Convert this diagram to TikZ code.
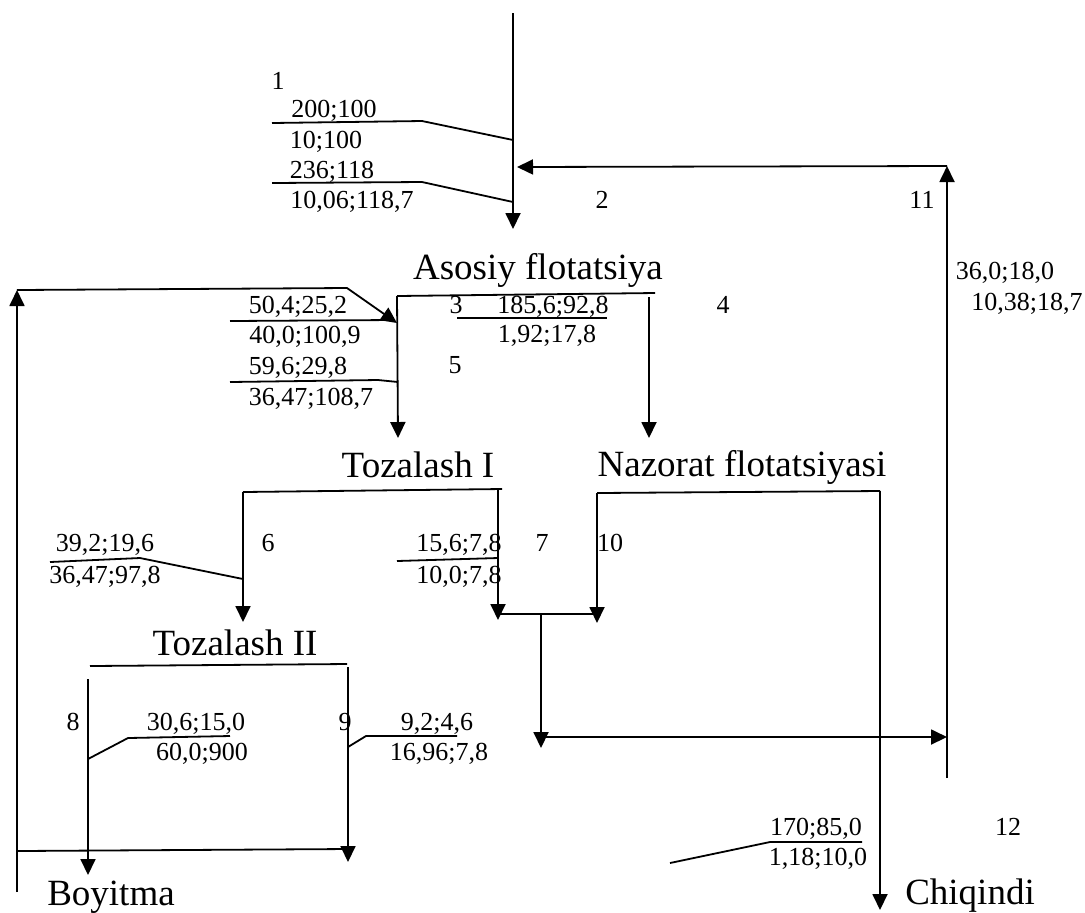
\documentclass[tikz,border=0pt]{standalone}
\usepackage{fontspec}
\setmainfont{Liberation Serif}
\usetikzlibrary{arrows.meta,positioning}

\tikzset{
  flow/.style={line width=0.9pt},
  flowarr/.style={flow, -{Triangle[length=8pt,width=7.5pt]}},
  val/.style={anchor=base, inner sep=0pt, font=\fontsize{13}{15}\selectfont},
  stage/.style={anchor=base, inner sep=0pt, font=\fontsize{18.5}{21}\selectfont},
}

\begin{document}
\begin{tikzpicture}[x=0.5pt,y=-0.5pt]
  \useasboundingbox (0,0) rectangle (1085,912);
  % Stage names
  \node[stage] (asosiy)  at (538,279) {Asosiy flotatsiya};
  \node[stage] (toz1)    at (418,477) {Tozalash I};
  \node[stage] (nazorat) at (742,476) {Nazorat flotatsiyasi};
  \node[stage] (toz2)    at (235,655) {Tozalash II};
  \node[stage] (boyitma) at (111,905) {Boyitma};
  \node[stage] (chiq)    at (970,904) {Chiqindi};
  % Flow numbers and values
  \foreach [count=\i] \x/\y/\t in {
      278/89/1, 334/117/{200;100}, 326/148/{10;100}, 332/178/{236;118},
      352/208/{10,06;118,7}, 602/208/2, 922/208/11,
      1005/279/{36,0;18,0}, 1027/310/{10,38;18,7},
      456/313/3, 553/313/{185,6;92,8}, 547/342/{1,92;17,8}, 723/313/4,
      455/373/5, 298/313/{50,4;25,2}, 305/343/{40,0;100,9},
      298/374/{59,6;29,8}, 311/405/{36,47;108,7},
      105/551/{39,2;19,6}, 105/583/{36,47;97,8}, 268/551/6,
      459/551/{15,6;7,8}, 459/583/{10,0;7,8}, 542/551/7, 610/551/10,
      73/730/8, 196/730/{30,6;15,0}, 202/760/{60,0;900},
      345/730/9, 437/730/{9,2;4,6}, 439/760/{16,96;7,8},
      816/835/{170;85,0}, 818/865/{1,18;10,0}, 1008/835/12}{
    \node[val] (v\i) at (\x,\y) {\t};
  }
  % Points of the flowsheet
  \coordinate (feedtop) at (513,13);
  \coordinate (feedin)  at (513,229);
  \coordinate (f1a) at (272,123); \coordinate (f1b) at (422,121); \coordinate (f1c) at (513,140);
  \coordinate (f2a) at (272,183); \coordinate (f2b) at (422,182); \coordinate (f2c) at (513,202);
  \coordinate (r11bot) at (947,778); \coordinate (r11top) at (947,166);
  \coordinate (r11in) at (517,167);
  \coordinate (asL) at (397,296); \coordinate (asR) at (655,293);
  \coordinate (asLout) at (398,438); \coordinate (asRin) at (649,297);
  \coordinate (asRout) at (649,438);
  \coordinate (u3a) at (457,318); \coordinate (u3b) at (607,318);
  \coordinate (d50a) at (230,321); \coordinate (d50b) at (393,320);
  \coordinate (d59a) at (230,382); \coordinate (d59b) at (378,380); \coordinate (d59c) at (398,382);
  \coordinate (lbot) at (17,892); \coordinate (ltop) at (17,290);
  \coordinate (lbend) at (347,288); \coordinate (lin) at (397,323);
  \coordinate (lrow) at (17,851); \coordinate (lrowR) at (348,849);
  \coordinate (t1L) at (243,492); \coordinate (t1R) at (502,489);
  \coordinate (t1Lout) at (243,622); \coordinate (t1Rin) at (498,489);
  \coordinate (t1Rout) at (498,620);
  \coordinate (d39a) at (50,562); \coordinate (d39b) at (140,558); \coordinate (d39c) at (243,579);
  \coordinate (d15a) at (397,561); \coordinate (d15b) at (498,558);
  \coordinate (nzL) at (597,493); \coordinate (nzR) at (880,491);
  \coordinate (nzLout) at (597,623); \coordinate (nzRout) at (880,910);
  \coordinate (jL) at (498,614); \coordinate (jR) at (597,614);
  \coordinate (jM) at (541,614); \coordinate (jMout) at (541,748);
  \coordinate (hL) at (541,737); \coordinate (hR) at (947,737);
  \coordinate (t2L) at (90,666); \coordinate (t2R) at (347,664);
  \coordinate (t2Lin) at (88,679); \coordinate (t2Lout) at (88,875);
  \coordinate (t2Rin) at (348,667); \coordinate (t2Rout) at (348,862);
  \coordinate (d30a) at (88,759); \coordinate (d30b) at (128,738); \coordinate (d30c) at (230,736);
  \coordinate (d9a) at (348,747); \coordinate (d9b) at (366,736); \coordinate (d9c) at (457,736);
  \coordinate (d17a) at (670,863); \coordinate (d17b) at (770,842); \coordinate (d17c) at (862,842);
  % Feed to main flotation
  \draw[flowarr] (feedtop) -- (feedin);
  \draw[flow] (f1a) -- (f1b) -- (f1c);
  \draw[flow] (f2a) -- (f2b) -- (f2c);
  \draw[flowarr] (r11bot) -- (r11top);
  \draw[flowarr] (r11top) -- (r11in);
  % Asosiy flotatsiya
  \draw[flow] (asL) -- (asR);
  \draw[flowarr] (asL) -- (asLout);
  \draw[flowarr] (asRin) -- (asRout);
  \draw[flow] (u3a) -- (u3b);
  \draw[flow] (d50a) -- (d50b);
  \draw[flow] (d59a) -- (d59b) -- (d59c);
  % Return from Tozalash II
  \draw[flowarr] (lbot) -- (ltop);
  \draw[flowarr] (ltop) -- (lbend) -- (lin);
  \draw[flow] (lrow) -- (lrowR);
  % Tozalash I
  \draw[flow] (t1L) -- (t1R);
  \draw[flowarr] (t1L) -- (t1Lout);
  \draw[flowarr] (t1Rin) -- (t1Rout);
  \draw[flow] (d39a) -- (d39b) -- (d39c);
  \draw[flow] (d15a) -- (d15b);
  % Nazorat flotatsiyasi
  \draw[flow] (nzL) -- (nzR);
  \draw[flowarr] (nzL) -- (nzLout);
  \draw[flowarr] (nzR) -- (nzRout);
  \draw[flow] (jL) -- (jR);
  \draw[flowarr] (jM) -- (jMout);
  \draw[flowarr] (hL) -- (hR);
  \draw[flow] (d17a) -- (d17b) -- (d17c);
  % Tozalash II
  \draw[flow] (t2L) -- (t2R);
  \draw[flowarr] (t2Lin) -- (t2Lout);
  \draw[flowarr] (t2Rin) -- (t2Rout);
  \draw[flow] (d30a) -- (d30b) -- (d30c);
  \draw[flow] (d9a) -- (d9b) -- (d9c);
\end{tikzpicture}
\end{document}
